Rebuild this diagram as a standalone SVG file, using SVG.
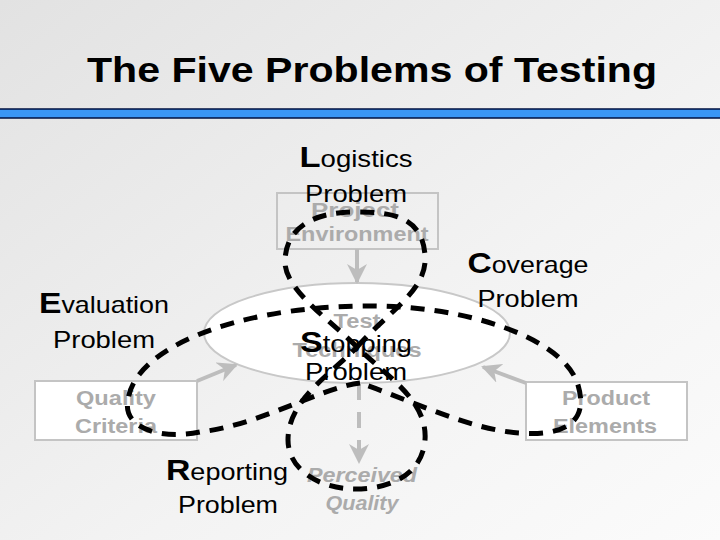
<svg xmlns="http://www.w3.org/2000/svg" width="720" height="540" viewBox="0 0 720 540">
<defs>
<linearGradient id="bg" x1="0" y1="0" x2="1" y2="1">
<stop offset="0" stop-color="#e2e2e2"/>
<stop offset="0.6" stop-color="#f3f3f3"/>
<stop offset="1" stop-color="#fbfbfb"/>
</linearGradient>
<marker id="ah" viewBox="0 0 10 10" refX="9" refY="5" markerWidth="5" markerHeight="5" orient="auto" markerUnits="strokeWidth">
<path d="M0,0 L10,5 L0,10 L3,5 Z" fill="#bdbdbd"/>
</marker>
<style>
.lbl{font-family:"Liberation Sans",Arial,sans-serif;font-size:24px;fill:#000}
.big{font-weight:bold;font-size:30px}
.gry{font-family:"Liberation Sans",Arial,sans-serif;font-size:20px;font-weight:bold;fill:#ababab}
.box{fill:#ffffff;stroke:#c4c4c4;stroke-width:2}
.arr{stroke:#bdbdbd;stroke-width:4;fill:none;marker-end:url(#ah)}
.loop{fill:none;stroke:#000;stroke-width:5;stroke-dasharray:14 10}
</style>
</defs>
<rect x="0" y="0" width="720" height="540" fill="url(#bg)"/>
<g id="title">
<text x="372" y="82" text-anchor="middle" textLength="570" lengthAdjust="spacingAndGlyphs" style="font-family:'Liberation Sans',Arial,sans-serif;font-size:35px;font-weight:bold">The Five Problems of Testing</text>
<rect x="-2" y="109" width="724" height="9" fill="#3a96f5" stroke="#001040" stroke-width="1.5"/>
</g>
<g id="project-environment">
<rect x="277" y="193" width="161" height="56" fill="none" stroke="#c4c4c4" stroke-width="2"/>
<text class="gry" x="355" y="217" text-anchor="middle" textLength="88" lengthAdjust="spacingAndGlyphs">Project</text>
<text class="gry" x="357" y="241" text-anchor="middle" textLength="143" lengthAdjust="spacingAndGlyphs">Environment</text>
</g>
<g id="quality-criteria">
<rect class="box" x="35" y="381" width="162" height="59"/>
<text class="gry" x="116" y="405" text-anchor="middle" textLength="80" lengthAdjust="spacingAndGlyphs">Quality</text>
<text class="gry" x="116" y="433" text-anchor="middle" textLength="82" lengthAdjust="spacingAndGlyphs">Criteria</text>
</g>
<g id="product-elements">
<rect class="box" x="526" y="382" width="161" height="58"/>
<text class="gry" x="606" y="405" text-anchor="middle" textLength="88" lengthAdjust="spacingAndGlyphs">Product</text>
<text class="gry" x="605" y="433" text-anchor="middle" textLength="104" lengthAdjust="spacingAndGlyphs">Elements</text>
</g>
<g id="test-techniques">
<ellipse cx="357" cy="333" rx="153" ry="50" fill="#ffffff" stroke="#c8c8c8" stroke-width="2"/>
<text class="gry" x="357" y="328" text-anchor="middle" textLength="47" lengthAdjust="spacingAndGlyphs">Test</text>
<text class="gry" x="357" y="357" text-anchor="middle" textLength="129" lengthAdjust="spacingAndGlyphs">Techniques</text>
</g>
<g id="perceived-quality">
<text class="gry" x="362" y="482" text-anchor="middle" font-style="italic" textLength="110" lengthAdjust="spacingAndGlyphs">Perceived</text>
<text class="gry" x="362" y="510" text-anchor="middle" font-style="italic" textLength="73" lengthAdjust="spacingAndGlyphs">Quality</text>
</g>
<g id="connectors">
<line class="arr" x1="357" y1="249" x2="357" y2="282"/>
<line class="arr" x1="197" y1="381" x2="236" y2="365"/>
<line class="arr" x1="526" y1="383" x2="483" y2="367"/>
<line class="arr" x1="359" y1="384" x2="359" y2="462" stroke-dasharray="16 12"/>
</g>
<g id="logistics-label">
<text class="lbl" x="356" y="167" text-anchor="middle" textLength="113" lengthAdjust="spacingAndGlyphs"><tspan class="big">L</tspan>ogistics</text>
<text class="lbl" x="356" y="202" text-anchor="middle" textLength="102" lengthAdjust="spacingAndGlyphs">Problem</text>
</g>
<g id="evaluation-label">
<text class="lbl" x="104" y="313" text-anchor="middle" textLength="130" lengthAdjust="spacingAndGlyphs"><tspan class="big">E</tspan>valuation</text>
<text class="lbl" x="104" y="348" text-anchor="middle" textLength="102" lengthAdjust="spacingAndGlyphs">Problem</text>
</g>
<g id="coverage-label">
<text class="lbl" x="528" y="273" text-anchor="middle" textLength="121" lengthAdjust="spacingAndGlyphs"><tspan class="big">C</tspan>overage</text>
<text class="lbl" x="528" y="307" text-anchor="middle" textLength="101" lengthAdjust="spacingAndGlyphs">Problem</text>
</g>
<g id="stopping-label">
<text class="lbl" x="356" y="352" text-anchor="middle" textLength="112" lengthAdjust="spacingAndGlyphs"><tspan class="big">S</tspan>topping</text>
<text class="lbl" x="356" y="380" text-anchor="middle" textLength="102" lengthAdjust="spacingAndGlyphs">Problem</text>
</g>
<g id="reporting-label">
<text class="lbl" x="227" y="480" text-anchor="middle" textLength="122" lengthAdjust="spacingAndGlyphs"><tspan class="big">R</tspan>eporting</text>
<text class="lbl" x="228" y="513" text-anchor="middle" textLength="100" lengthAdjust="spacingAndGlyphs">Problem</text>
</g>
<g id="loops">
<path class="loop" d="M360 383 C320 388 260 425 200 432 C160 440 122 428 128 400 C134 350 230 308 360 306 C470 304 565 340 578 385 C590 425 560 436 520 433 C470 430 410 400 360 383 Z"/>
<path class="loop" d="M357 347 C390 310 428 290 425 255 C422 215 390 212 355 212 C310 212 285 230 285 262 C285 290 330 320 357 347 C385 375 428 400 425 440 C422 475 390 489 355 489 C320 489 288 470 288 440 C288 400 330 375 357 347 Z"/>
</g>
</svg>
